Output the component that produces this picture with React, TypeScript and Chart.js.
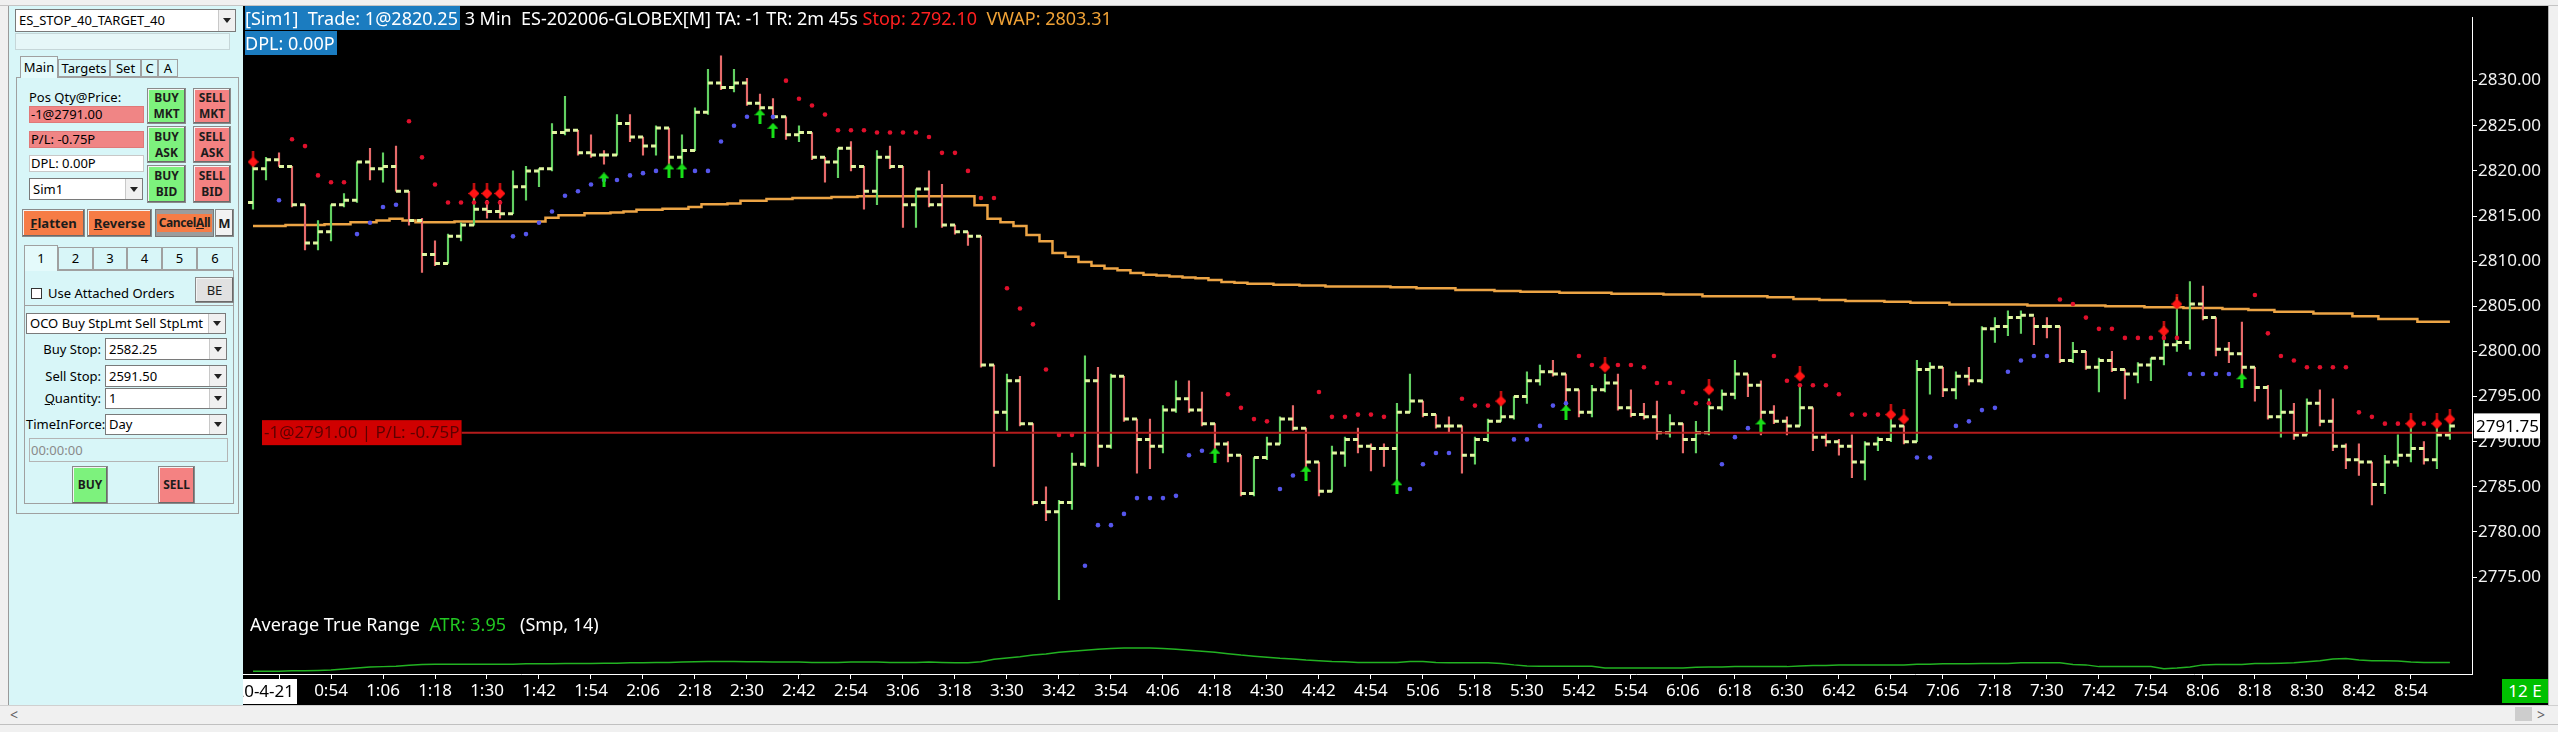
import { useEffect, useRef } from 'react';
import type { CSSProperties, ReactNode } from 'react';
import Chart from 'chart.js/auto';

const FONT = "'Noto Sans', 'DejaVu Sans', sans-serif";

// ES-202006 3 min bars, first visible bar at 0:36
const firstBarTime = '0:36';
const barMinutes = 3;
const dateLabel = '20-4-21';
const dateLabelTime = '0:42';
const timeLabels = [
  '0:54', '1:06', '1:18', '1:30', '1:42', '1:54', '2:06', '2:18', '2:30', '2:42',
  '2:54', '3:06', '3:18', '3:30', '3:42', '3:54', '4:06', '4:18', '4:30', '4:42',
  '4:54', '5:06', '5:18', '5:30', '5:42', '5:54', '6:06', '6:18', '6:30', '6:42',
  '6:54', '7:06', '7:18', '7:30', '7:42', '7:54', '8:06', '8:18', '8:30', '8:42', '8:54',
];
const priceTicks = [2775, 2780, 2785, 2790, 2795, 2800, 2805, 2810, 2815, 2820, 2825, 2830];

const opens = [
  2816.5, 2820.25, 2821.25, 2820.5, 2816.25, 2812.0, 2813.25, 2816.25, 2816.75, 2821.0,
  2820.25, 2820.5, 2817.75, 2814.5, 2810.75, 2809.75, 2812.75, 2814.0, 2815.75, 2815.5,
  2815.25, 2818.25, 2820.0, 2820.25, 2824.25, 2824.5, 2822.0, 2821.75, 2821.75, 2825.25,
  2823.75, 2822.75, 2824.75, 2821.5, 2822.25, 2826.5, 2829.75, 2829.25, 2829.75, 2827.5,
  2827.0, 2826.0, 2824.0, 2824.25, 2821.5, 2821.0, 2822.5, 2820.5, 2817.75, 2821.5,
  2820.5, 2816.25, 2818.0, 2816.25, 2814.0, 2813.25, 2812.75, 2798.5, 2793.25, 2796.75,
  2792.0, 2783.25, 2782.25, 2783.25, 2787.5, 2796.75, 2789.5, 2797.25, 2792.5, 2790.25,
  2789.5, 2793.5, 2794.75, 2793.5, 2792.0, 2789.75, 2788.5, 2784.25, 2788.25, 2789.75,
  2792.5, 2791.5, 2787.75, 2784.5, 2788.75, 2790.25, 2789.5, 2789.25, 2789.25, 2793.25,
  2794.5, 2793.0, 2791.75, 2791.75, 2788.5, 2790.25, 2792.25, 2792.75, 2795.0, 2796.75,
  2797.75, 2797.5, 2795.75, 2793.25, 2795.75, 2796.5, 2793.75, 2793.0, 2792.75, 2791.0,
  2792.0, 2790.25, 2791.0, 2793.75, 2795.25, 2797.5, 2796.25, 2793.25, 2792.25, 2791.75,
  2793.75, 2790.5, 2790.0, 2789.5, 2787.75, 2789.75, 2790.25, 2791.75, 2790.0, 2798.0,
  2798.25, 2795.75, 2797.25, 2796.75, 2802.5, 2802.75, 2803.75, 2804.0, 2802.75, 2802.75,
  2799.0, 2800.0, 2798.25, 2799.0, 2798.0, 2797.5, 2798.5, 2799.25, 2800.75, 2801.0,
  2805.25, 2803.75, 2800.25, 2799.75, 2798.25, 2796.0, 2792.75, 2793.25, 2790.75, 2794.25,
  2792.25, 2789.5, 2788.0, 2787.75, 2785.25, 2787.75, 2788.5, 2789.25, 2788.0, 2790.75,
];
const highs = [
  2820.5, 2821.5, 2822.0, 2820.5, 2816.25, 2814.5, 2816.25, 2817.5, 2821.0, 2822.5,
  2822.0, 2822.75, 2817.75, 2814.75, 2812.25, 2813.0, 2814.25, 2817.75, 2816.75, 2816.75,
  2820.0, 2820.5, 2820.25, 2825.25, 2828.25, 2824.5, 2824.0, 2822.25, 2826.25, 2826.25,
  2823.75, 2825.0, 2824.75, 2824.0, 2827.0, 2831.25, 2832.75, 2831.25, 2830.25, 2828.5,
  2828.0, 2826.0, 2825.0, 2824.25, 2821.5, 2822.5, 2823.25, 2820.5, 2822.25, 2822.75,
  2820.5, 2818.0, 2820.0, 2818.5, 2814.0, 2813.25, 2812.75, 2798.5, 2797.5, 2797.25,
  2792.0, 2785.0, 2783.5, 2788.75, 2799.5, 2798.25, 2797.5, 2797.25, 2792.5, 2792.5,
  2794.0, 2796.75, 2796.75, 2795.5, 2792.0, 2790.0, 2788.5, 2788.25, 2790.5, 2792.75,
  2794.0, 2791.5, 2787.75, 2789.5, 2790.5, 2791.5, 2789.75, 2789.75, 2794.25, 2797.5,
  2794.5, 2793.0, 2792.75, 2791.75, 2790.5, 2792.5, 2794.0, 2795.0, 2797.75, 2798.5,
  2799.0, 2797.5, 2795.75, 2796.25, 2797.5, 2797.5, 2795.75, 2794.25, 2794.5, 2793.0,
  2792.0, 2792.25, 2794.75, 2795.75, 2799.0, 2797.5, 2796.75, 2794.0, 2792.75, 2796.25,
  2793.75, 2791.0, 2790.25, 2790.75, 2790.0, 2790.5, 2792.5, 2791.75, 2799.0, 2798.75,
  2798.25, 2797.75, 2798.25, 2802.75, 2803.75, 2804.5, 2804.5, 2803.75, 2803.75, 2802.75,
  2801.0, 2800.0, 2799.25, 2800.0, 2798.0, 2798.75, 2799.25, 2802.75, 2806.0, 2807.75,
  2807.25, 2803.75, 2801.0, 2803.25, 2798.25, 2796.25, 2795.75, 2794.25, 2794.75, 2795.75,
  2794.75, 2789.75, 2789.75, 2787.75, 2788.5, 2790.75, 2792.0, 2790.0, 2792.0, 2792.0,
];
const lows = [
  2815.75, 2819.0, 2820.5, 2816.0, 2811.25, 2811.25, 2812.25, 2816.0, 2816.5, 2819.0,
  2818.75, 2817.75, 2814.0, 2808.75, 2809.5, 2809.75, 2812.25, 2814.0, 2814.75, 2814.75,
  2815.25, 2816.75, 2818.25, 2820.0, 2824.0, 2821.75, 2821.5, 2820.75, 2821.75, 2823.25,
  2821.75, 2821.75, 2820.75, 2820.75, 2822.25, 2826.25, 2829.0, 2828.75, 2827.25, 2826.75,
  2825.75, 2823.5, 2823.25, 2821.25, 2818.75, 2819.25, 2820.0, 2815.75, 2816.25, 2820.25,
  2813.75, 2813.75, 2816.0, 2813.75, 2813.0, 2811.75, 2798.25, 2787.25, 2791.25, 2791.75,
  2783.0, 2781.25, 2772.5, 2782.5, 2787.25, 2787.25, 2789.25, 2792.25, 2786.5, 2787.0,
  2788.75, 2793.25, 2793.25, 2791.75, 2789.0, 2787.75, 2784.0, 2784.0, 2788.0, 2789.75,
  2791.25, 2786.25, 2784.0, 2784.5, 2787.25, 2788.75, 2786.75, 2787.25, 2784.75, 2793.25,
  2792.75, 2791.5, 2791.0, 2786.5, 2787.5, 2790.0, 2792.25, 2792.5, 2794.25, 2796.25,
  2797.25, 2793.25, 2792.75, 2792.75, 2795.5, 2793.5, 2792.75, 2792.5, 2790.25, 2790.5,
  2788.75, 2788.75, 2790.75, 2793.5, 2794.75, 2795.0, 2790.75, 2792.0, 2790.75, 2791.75,
  2789.0, 2789.5, 2788.5, 2786.0, 2785.75, 2789.0, 2790.0, 2789.75, 2790.0, 2795.25,
  2795.0, 2794.75, 2796.25, 2796.5, 2801.0, 2801.75, 2802.0, 2800.75, 2801.5, 2798.75,
  2798.75, 2798.0, 2795.5, 2797.75, 2794.75, 2796.5, 2796.75, 2798.5, 2800.0, 2800.25,
  2803.5, 2799.5, 2798.75, 2796.5, 2794.5, 2792.5, 2790.5, 2790.25, 2790.75, 2791.75,
  2789.0, 2787.0, 2786.25, 2783.0, 2784.25, 2787.25, 2787.75, 2787.5, 2787.0, 2790.25,
];
const closes = [
  2820.25, 2821.25, 2820.5, 2816.25, 2812.0, 2813.25, 2816.25, 2816.75, 2821.0, 2820.25,
  2820.5, 2817.75, 2814.5, 2810.75, 2809.75, 2812.75, 2814.0, 2815.75, 2815.5, 2815.25,
  2818.25, 2820.0, 2820.25, 2824.25, 2824.5, 2822.0, 2821.75, 2821.75, 2825.25, 2823.75,
  2822.75, 2824.75, 2821.5, 2822.25, 2826.5, 2829.75, 2829.25, 2829.75, 2827.5, 2827.0,
  2826.0, 2824.0, 2824.25, 2821.5, 2821.0, 2822.5, 2820.5, 2817.75, 2821.5, 2820.5,
  2816.25, 2818.0, 2816.25, 2814.0, 2813.25, 2812.75, 2798.5, 2793.25, 2796.75, 2792.0,
  2783.25, 2782.25, 2783.25, 2787.5, 2796.75, 2789.5, 2797.25, 2792.5, 2790.25, 2789.5,
  2793.5, 2794.75, 2793.5, 2792.0, 2789.75, 2788.5, 2784.25, 2788.25, 2789.75, 2792.5,
  2791.5, 2787.75, 2784.5, 2788.75, 2790.25, 2789.5, 2789.25, 2789.25, 2793.25, 2794.5,
  2793.0, 2791.75, 2791.75, 2788.5, 2790.25, 2792.25, 2792.75, 2795.0, 2796.75, 2797.75,
  2797.5, 2795.75, 2793.25, 2795.75, 2796.5, 2793.75, 2793.0, 2792.75, 2791.0, 2792.0,
  2790.25, 2791.0, 2793.75, 2795.25, 2797.5, 2796.25, 2793.25, 2792.25, 2791.75, 2793.75,
  2790.5, 2790.0, 2789.5, 2787.75, 2789.75, 2790.25, 2791.75, 2790.0, 2798.0, 2798.25,
  2795.75, 2797.25, 2796.75, 2802.5, 2802.75, 2803.75, 2804.0, 2802.75, 2802.75, 2799.0,
  2800.0, 2798.25, 2799.0, 2798.0, 2797.5, 2798.5, 2799.25, 2800.75, 2801.0, 2805.25,
  2803.75, 2800.25, 2799.75, 2798.25, 2796.0, 2792.75, 2793.25, 2790.75, 2794.25, 2792.25,
  2789.5, 2788.0, 2787.75, 2785.25, 2787.75, 2788.5, 2789.25, 2788.0, 2790.75, 2791.75,
];
const vwap = [
  2813.9, 2813.9, 2813.9, 2814.0, 2814.0, 2814.0, 2814.1, 2814.1, 2814.3, 2814.3,
  2814.5, 2814.7, 2814.5, 2814.3, 2814.3, 2814.3, 2814.4, 2814.4, 2814.4, 2814.4,
  2814.4, 2814.4, 2814.4, 2814.8, 2815.1, 2815.1, 2815.3, 2815.3, 2815.4, 2815.5,
  2815.7, 2815.7, 2815.8, 2815.8, 2816.0, 2816.3, 2816.3, 2816.4, 2816.7, 2816.7,
  2816.9, 2816.9, 2817.0, 2817.0, 2817.0, 2817.1, 2817.1, 2817.2, 2817.2, 2817.2,
  2817.2, 2817.2, 2817.2, 2817.2, 2817.2, 2817.2, 2816.2, 2814.7, 2814.3, 2813.9,
  2812.9, 2812.2, 2810.9, 2810.5, 2809.9, 2809.5, 2809.2, 2809.0, 2808.7, 2808.5,
  2808.4, 2808.3, 2808.2, 2808.1, 2807.9, 2807.7, 2807.6, 2807.5, 2807.5, 2807.4,
  2807.4, 2807.3, 2807.3, 2807.2, 2807.2, 2807.2, 2807.2, 2807.2, 2807.1, 2807.1,
  2807.0, 2807.0, 2807.0, 2806.8, 2806.8, 2806.8, 2806.7, 2806.7, 2806.6, 2806.6,
  2806.6, 2806.5, 2806.5, 2806.5, 2806.5, 2806.4, 2806.4, 2806.4, 2806.4, 2806.3,
  2806.3, 2806.3, 2806.1, 2806.1, 2806.1, 2806.1, 2806.1, 2806.0, 2806.0, 2805.8,
  2805.8, 2805.7, 2805.7, 2805.6, 2805.6, 2805.6, 2805.5, 2805.5, 2805.4, 2805.4,
  2805.4, 2805.2, 2805.2, 2805.2, 2805.2, 2805.2, 2805.2, 2805.1, 2805.1, 2805.1,
  2805.1, 2805.1, 2805.1, 2805.0, 2805.0, 2805.0, 2804.9, 2804.9, 2804.9, 2804.8,
  2804.8, 2804.8, 2804.7, 2804.7, 2804.6, 2804.6, 2804.4, 2804.4, 2804.4, 2804.2,
  2804.2, 2804.2, 2803.9, 2803.9, 2803.6, 2803.6, 2803.6, 2803.3, 2803.3, 2803.3,
];
// trailing stop dots: above price = red, below price = blue
const stopDots = [
  null, null, 2816.75, 2823.5, 2822.75, 2819.5, 2818.75, 2818.75, 2813.0, 2814.25,
  2816.0, 2816.25, 2825.5, 2821.5, 2818.5, 2816.5, 2816.5, 2816.5, 2816.5, 2816.5,
  2812.75, 2813.0, 2814.25, 2815.5, 2817.25, 2817.75, 2818.5, 2819.0, 2819.0, 2819.5,
  2819.75, 2820.0, null, null, 2820.0, 2820.0, 2823.25, 2825.0, 2826.0, null,
  2826.0, 2830.0, 2828.0, 2827.25, 2826.25, 2824.5, 2824.5, 2824.5, 2824.25, 2824.25,
  2824.25, 2824.25, 2823.75, 2822.0, 2822.0, 2820.0, 2817.0, 2817.0, 2807.0, 2804.75,
  2803.0, 2798.0, 2790.75, 2790.75, 2776.25, 2780.75, 2780.75, 2782.0, 2783.75, 2783.75,
  2783.75, 2784.0, 2788.5, 2789.0, null, 2795.25, 2793.75, 2792.5, 2792.25, 2784.75,
  2786.25, null, 2795.5, 2792.75, 2792.75, 2793.0, 2793.0, 2792.75, null, 2784.75,
  2787.5, 2788.75, 2788.75, 2794.75, 2794.0, 2794.0, null, 2790.25, 2790.25, 2791.75,
  2794.0, 2794.25, 2799.5, 2798.5, null, 2798.5, 2798.5, 2798.25, 2796.5, 2796.5,
  2795.5, 2794.25, 2794.25, 2787.5, 2790.5, 2791.5, null, 2799.5, 2796.75, 2796.25,
  2796.25, 2796.25, 2795.25, 2793.0, 2793.0, 2793.0, null, null, 2788.25, 2788.25,
  null, 2791.75, 2792.25, 2793.5, 2793.75, 2797.75, 2799.0, 2799.5, 2799.5, 2805.75,
  2805.25, 2803.75, 2802.5, 2802.5, 2801.5, 2801.5, 2801.5, 2801.5, 2801.5, 2797.5,
  2797.5, 2797.5, 2797.5, null, 2806.25, 2802.0, 2799.5, 2799.0, 2798.25, 2798.25,
  2798.25, 2798.25, 2793.25, 2792.75, 2792.0, 2792.0, null, 2792.0, null, null,
];
const sellSignalBars = [0, 17, 18, 19, 96, 104, 112, 119, 126, 127, 147, 148, 166, 168, 169];
const sellSignalPrices = [
  2821.0, 2817.5, 2817.5, 2817.5, 2794.5, 2798.25, 2795.75, 2797.25, 2793.0, 2792.5,
  2802.25, 2805.25, 2792.0, 2792.0, 2792.5,
];
const buySignalBars = [27, 32, 33, 39, 40, 74, 81, 88, 101, 116, 153];
const buySignalPrices = [
  2819.0, 2820.0, 2820.0, 2826.0, 2824.5, 2788.5, 2786.5, 2785.0, 2793.25, 2791.75, 2796.75,
];
const atr = [
  1.5, 1.5, 1.5, 1.6, 1.6, 1.7, 1.8, 2.1, 2.4, 2.7,
  2.8, 2.9, 3.2, 3.4, 3.5, 3.5, 3.5, 3.5, 3.5, 3.5,
  3.5, 3.6, 3.6, 3.6, 3.7, 3.7, 3.7, 3.8, 3.8, 3.9,
  3.9, 4.0, 4.0, 4.1, 4.2, 4.3, 4.3, 4.3, 4.2, 4.2,
  4.1, 4.1, 4.1, 4.0, 4.0, 4.0, 4.1, 4.1, 4.1, 4.0,
  4.0, 4.0, 4.1, 4.0, 3.9, 3.9, 4.2, 4.9, 5.3, 5.6,
  6.1, 6.4, 6.9, 7.2, 7.5, 7.8, 8.0, 8.1, 8.1, 8.1,
  8.0, 7.8, 7.5, 7.2, 6.9, 6.5, 6.1, 5.8, 5.5, 5.2,
  5.0, 4.7, 4.5, 4.3, 4.2, 4.0, 4.0, 4.0, 4.0, 4.3,
  4.3, 4.0, 3.9, 3.9, 3.9, 3.9, 3.7, 3.3, 3.0, 2.9,
  2.9, 2.9, 2.9, 2.9, 2.4, 2.4, 2.4, 2.4, 2.4, 2.4,
  2.4, 2.6, 2.7, 2.7, 2.8, 2.8, 2.8, 2.8, 2.8, 3.0,
  3.1, 3.1, 3.3, 3.3, 3.3, 3.3, 3.3, 3.3, 3.5, 3.5,
  3.6, 3.6, 3.6, 3.7, 3.7, 3.7, 3.9, 3.9, 3.9, 3.9,
  3.4, 3.3, 2.8, 2.8, 2.8, 2.8, 2.8, 2.2, 2.4, 2.7,
  3.3, 3.4, 3.4, 3.4, 3.7, 3.7, 3.8, 3.9, 4.2, 4.5,
  5.0, 5.1, 4.7, 4.5, 4.5, 4.4, 4.1, 4.0, 4.0, 3.95,
];
const positionPrice = 2791.0;
const positionLabel = '-1@2791.00 | P/L: -0.75P';

const UP = '#62d062';
const DOWN = '#e66a6a';
const TICK = '#e0f5a2';

const toMinutes = (t: string) => {
  const [h, m] = t.split(':').map(Number);
  return h * 60 + m;
};
const barOf = (t: string) => (toMinutes(t) - toMinutes(firstBarTime)) / barMinutes;

function makeSellMarker() {
  const c = document.createElement('canvas');
  c.width = 11;
  c.height = 21;
  const g = c.getContext('2d')!;
  g.fillStyle = '#ff1414';
  g.fillRect(4.5, 0, 2, 6);
  g.beginPath();
  g.moveTo(5.5, 5);
  g.lineTo(11, 10.5);
  g.lineTo(5.5, 16);
  g.lineTo(0, 10.5);
  g.closePath();
  g.fill();
  return c;
}

function makeBuyMarker() {
  const c = document.createElement('canvas');
  c.width = 11;
  c.height = 15;
  const g = c.getContext('2d')!;
  g.fillStyle = '#18e018';
  g.beginPath();
  g.moveTo(5.5, 0);
  g.lineTo(11, 6);
  g.lineTo(0, 6);
  g.closePath();
  g.fill();
  g.fillRect(4, 5, 3, 10);
  return c;
}

const overlayPlugin = {
  id: 'ntOverlay',
  afterDatasetsDraw(chart: any) {
    const { ctx, chartArea: a, scales } = chart;
    const y = scales.y.getPixelForValue(positionPrice);
    ctx.save();
    ctx.font = `17px ${FONT}`;
    const w = ctx.measureText(positionLabel).width + 4;
    const x0 = a.left + 19;
    ctx.strokeStyle = '#b41c1c';
    ctx.lineWidth = 2;
    ctx.beginPath();
    ctx.moveTo(x0 + w, y);
    ctx.lineTo(a.right, y);
    ctx.stroke();
    ctx.fillStyle = '#d00000';
    ctx.fillRect(x0, y - 12.5, w, 25);
    ctx.fillStyle = '#5e0000';
    ctx.textBaseline = 'middle';
    ctx.fillText(positionLabel, x0 + 2, y + 1);
    ctx.restore();
  },
  afterDraw(chart: any) {
    const { ctx, chartArea: a, scales } = chart;
    ctx.save();
    // last price marker on the price axis
    const last = closes[closes.length - 1];
    const ly = scales.y.getPixelForValue(last);
    ctx.fillStyle = '#ffffff';
    ctx.fillRect(a.right + 2, ly - 12.5, 66, 25);
    ctx.fillStyle = '#000000';
    ctx.font = `17px ${FONT}`;
    ctx.textBaseline = 'middle';
    ctx.textAlign = 'left';
    ctx.fillText(last.toFixed(2), a.right + 4, ly + 1);
    // date label on the time axis, cut by the left edge of the chart
    const dx = scales.x.getPixelForValue(barOf(dateLabelTime));
    ctx.font = `17px ${FONT}`;
    const dw = ctx.measureText(dateLabel).width;
    const right = dx + 18;
    ctx.fillStyle = '#ffffff';
    ctx.fillRect(right - dw - 6, a.bottom + 5, dw + 6, 25);
    ctx.fillStyle = '#000000';
    ctx.textAlign = 'right';
    ctx.fillText(dateLabel, right - 3, a.bottom + 18);
    ctx.restore();
  },
};

function PriceChart() {
  const canvasRef = useRef<HTMLCanvasElement>(null);

  useEffect(() => {
    const canvas = canvasRef.current;
    if (!canvas) return;
    const ctx = canvas.getContext('2d');
    if (!ctx) return;

    const tickBars = [barOf(dateLabelTime), ...timeLabels.map(barOf)];
    const sellMarker = makeSellMarker();
    const buyMarker = makeBuyMarker();

    const chart = new Chart(ctx, {
      type: 'bar',
      data: {
        datasets: [
          {
            type: 'line',
            label: 'VWAP',
            data: vwap.map((v, i) => ({ x: i, y: v })),
            borderColor: '#eca445',
            borderWidth: 2.5,
            pointRadius: 0,
            stepped: 'middle',
            order: 10,
          },
          {
            type: 'line',
            label: 'ATR',
            yAxisID: 'yAtr',
            data: atr.map((v, i) => ({ x: i, y: v })),
            borderColor: '#22b222',
            borderWidth: 1.5,
            pointRadius: 0,
            order: 10,
          },
          {
            type: 'bar',
            label: 'High-Low',
            data: highs.map((h, i) => ({ x: i, y: [lows[i], h] })),
            backgroundColor: closes.map((c, i) => (c > opens[i] ? UP : DOWN)),
            barThickness: 1.5,
            grouped: false,
            order: 8,
          },
          {
            type: 'line',
            label: 'Open',
            showLine: false,
            data: opens.map((o, i) => ({ x: i - 0.19, y: o })),
            pointStyle: 'line',
            pointRadius: 2.5,
            pointBorderWidth: 3,
            pointBorderColor: TICK,
            order: 6,
          },
          {
            type: 'line',
            label: 'Close',
            showLine: false,
            data: closes.map((c, i) => ({ x: i + 0.19, y: c })),
            pointStyle: 'line',
            pointRadius: 2.5,
            pointBorderWidth: 3,
            pointBorderColor: TICK,
            order: 6,
          },
          {
            type: 'line',
            label: 'Stop',
            showLine: false,
            data: stopDots.map((v, i) => ({ x: i, y: v })),
            pointRadius: 2.3,
            pointBorderWidth: 0,
            pointBackgroundColor: (c: any) =>
              c.raw && c.raw.y > closes[c.dataIndex] ? '#e0102c' : '#5656ec',
            order: 4,
          },
          {
            type: 'line',
            label: 'Sell',
            showLine: false,
            data: sellSignalBars.map((b, k) => ({ x: b, y: sellSignalPrices[k] })),
            pointStyle: sellMarker,
            pointRadius: 6,
            order: 1,
          },
          {
            type: 'line',
            label: 'Buy',
            showLine: false,
            data: buySignalBars.map((b, k) => ({ x: b, y: buySignalPrices[k] })),
            pointStyle: buyMarker,
            pointRadius: 6,
            order: 1,
          },
        ] as any,
      },
      options: {
        responsive: true,
        maintainAspectRatio: false,
        animation: false,
        events: [],
        layout: { padding: 0, autoPadding: false },
        plugins: { legend: { display: false }, tooltip: { enabled: false } },
        scales: {
          x: {
            type: 'linear',
            min: -0.77,
            max: 170.7,
            offset: false,
            grid: { drawOnChartArea: false, offset: false, tickLength: 5, color: '#ffffff' },
            border: { display: true, color: '#ffffff', width: 1 },
            ticks: {
              color: '#ffffff',
              font: { family: FONT, size: 17 },
              padding: 2,
              autoSkip: false,
              maxRotation: 0,
              callback: (v: any) => {
                const k = timeLabels.findIndex((t) => barOf(t) === Number(v));
                return k >= 0 ? timeLabels[k] : '';
              },
            },
            afterBuildTicks: (s: any) => {
              s.ticks = tickBars.map((v) => ({ value: v }));
            },
            afterFit: (s: any) => {
              s.height = 31;
            },
          },
          y: {
            type: 'linear',
            position: 'right',
            min: 2764.26,
            max: 2837.03,
            grid: { drawOnChartArea: false, tickLength: 5, color: '#ffffff' },
            border: { display: true, color: '#ffffff', width: 1 },
            ticks: {
              color: '#f2f2f2',
              font: { family: FONT, size: 17 },
              padding: 1,
              callback: (v: any) => Number(v).toFixed(2),
            },
            afterBuildTicks: (s: any) => {
              s.ticks = priceTicks.map((v) => ({ value: v }));
            },
            afterFit: (s: any) => {
              s.width = 76;
            },
          },
          yAtr: { type: 'linear', display: false, min: 0.69, max: 188.6 },
        },
      } as any,
      plugins: [overlayPlugin],
    });

    return () => {
      chart.destroy();
    };
  }, []);

  return <canvas ref={canvasRef} />;
}

type AbsProps = { x: number; y: number; w: number; h: number; style?: CSSProperties; children?: ReactNode };
function Abs({ x, y, w, h, style, children }: AbsProps) {
  return (
    <div style={{ position: 'absolute', left: x, top: y, width: w, height: h, boxSizing: 'border-box', ...style }}>
      {children}
    </div>
  );
}

function Arrow() {
  return (
    <div style={{ position: 'absolute', right: 0, top: 0, bottom: 0, width: 16, background: '#f0f0f0', borderLeft: '1px solid #c8c8c8', display: 'flex', alignItems: 'center', justifyContent: 'center' }}>
      <div style={{ width: 0, height: 0, borderLeft: '4px solid transparent', borderRight: '4px solid transparent', borderTop: '5px solid #222' }} />
    </div>
  );
}

function Combo({ x, y, w, h, text }: { x: number; y: number; w: number; h: number; text: string }) {
  return (
    <Abs x={x} y={y} w={w} h={h} style={{ background: '#fff', border: '1px solid #7a7a7a', paddingLeft: 3, lineHeight: `${h - 2}px`, fontSize: 13 }}>
      {text}
      <Arrow />
    </Abs>
  );
}

function Btn({ x, y, w, h, bg, children, bold = true }: { x: number; y: number; w: number; h: number; bg: string; children: ReactNode; bold?: boolean }) {
  return (
    <Abs x={x} y={y} w={w} h={h} style={{ background: bg, border: '1px solid #8a8a8a', boxShadow: 'inset -1px -1px 0 #6a6a6a, inset 1px 1px 0 #f4f4f4', display: 'flex', flexDirection: 'column', alignItems: 'center', justifyContent: 'center', fontWeight: bold ? 700 : 400, fontSize: 12, lineHeight: '16px', color: '#1c1c1c' }}>
      {children}
    </Abs>
  );
}

function Field({ x, y, w, h, bg, text, color = '#000', border = '1px solid #b8b8b8' }: { x: number; y: number; w: number; h: number; bg: string; text: string; color?: string; border?: string }) {
  return (
    <Abs x={x} y={y} w={w} h={h} style={{ background: bg, border, lineHeight: `${h - 2}px`, fontSize: 13, color, paddingLeft: 1 }}>
      {text}
    </Abs>
  );
}

function Label({ x, y, w, h, children, align = 'left' }: { x: number; y: number; w: number; h: number; children: ReactNode; align?: 'left' | 'right' | 'center' }) {
  return (
    <Abs x={x} y={y} w={w} h={h} style={{ lineHeight: `${h}px`, fontSize: 13, textAlign: align, whiteSpace: 'nowrap' }}>
      {children}
    </Abs>
  );
}

function Tab({ x, y, w, h, text, active = false }: { x: number; y: number; w: number; h: number; text: string; active?: boolean }) {
  return (
    <Abs x={x} y={y} w={w} h={h} style={{ background: active ? '#e4fafb' : '#d8f6f8', border: '1px solid #a0a0a0', borderBottom: active ? 'none' : '1px solid #a0a0a0', lineHeight: `${h - 2}px`, fontSize: 13, textAlign: 'center', zIndex: active ? 2 : 1 }}>
      {text}
    </Abs>
  );
}

const PANEL = '#d8f6f8';
const BUY_BG = '#7df27d';
const SELL_BG = '#f48282';
const ORANGE = '#f67c46';

export default function App() {
  return (
    <div style={{ position: 'fixed', left: 0, top: 0, width: 2558, height: 732, background: '#f0f0f0', overflow: 'hidden', fontFamily: FONT, color: '#000' }}>
      {/* window frame */}
      <Abs x={0} y={5} w={2558} h={1} style={{ background: '#c4c4c4' }} />
      <Abs x={8} y={6} w={1} h={700} style={{ background: '#9a9a9a' }} />
      <Abs x={9} y={6} w={234} h={699} style={{ background: PANEL }} />

      {/* chart trader panel */}
      <Combo x={15} y={9} w={221} h={23} text="ES_STOP_40_TARGET_40" />
      <Abs x={15} y={33} w={215} h={17} style={{ background: '#e6f7f8', border: '1px solid #c6d6d8' }} />
      <Abs x={16} y={77} w={223} h={437} style={{ border: '1px solid #a0a0a0' }} />
      <Tab x={20} y={56} w={38} h={22} text="Main" active />
      <Tab x={58} y={59} w={52} h={18} text="Targets" />
      <Tab x={110} y={59} w={31} h={18} text="Set" />
      <Tab x={141} y={59} w={17} h={18} text="C" />
      <Tab x={158} y={59} w={20} h={18} text="A" />

      <Label x={29} y={89} w={115} h={16}>Pos Qty@Price:</Label>
      <Field x={29} y={106} w={115} h={17} bg="#f08585" text="-1@2791.00" border="1px solid #e07878" />
      <Field x={29} y={131} w={115} h={17} bg="#f08585" text="P/L: -0.75P" border="1px solid #e07878" />
      <Field x={29} y={155} w={115} h={17} bg="#ffffff" text="DPL: 0.00P" border="1px solid #c8c8c8" />
      <Combo x={29} y={178} w={114} h={22} text="Sim1" />
      <Btn x={147} y={88} w={39} h={36} bg={BUY_BG}><span>BUY</span><span>MKT</span></Btn>
      <Btn x={193} y={88} w={38} h={36} bg={SELL_BG}><span>SELL</span><span>MKT</span></Btn>
      <Btn x={147} y={126} w={39} h={37} bg={BUY_BG}><span>BUY</span><span>ASK</span></Btn>
      <Btn x={193} y={126} w={38} h={37} bg={SELL_BG}><span>SELL</span><span>ASK</span></Btn>
      <Btn x={147} y={165} w={39} h={38} bg={BUY_BG}><span>BUY</span><span>BID</span></Btn>
      <Btn x={193} y={165} w={38} h={38} bg={SELL_BG}><span>SELL</span><span>BID</span></Btn>

      <Btn x={22} y={209} w={63} h={28} bg={ORANGE}><span style={{ fontSize: 13 }}><u>F</u>latten</span></Btn>
      <Btn x={87} y={209} w={65} h={28} bg={ORANGE}><span style={{ fontSize: 13 }}><u>R</u>everse</span></Btn>
      <Abs x={155} y={209} w={59} h={28} style={{ background: '#9c9c9c', border: '1px solid #7a7a7a', padding: '4px 1px' }}>
        <div style={{ background: ORANGE, height: '100%', fontWeight: 700, fontSize: 12, letterSpacing: -0.4, lineHeight: '18px', textAlign: 'center', color: '#1c1c1c', whiteSpace: 'nowrap', overflow: 'hidden' }}>Cancel<u>A</u>ll</div>
      </Abs>
      <Btn x={215} y={209} w={19} h={28} bg="#f2f2f2"><span style={{ fontSize: 13 }}>M</span></Btn>

      <Abs x={24} y={270} w={210} h={234} style={{ border: '1px solid #a0a0a0' }} />
      <Tab x={24} y={245} w={34} h={26} text="1" active />
      <Tab x={58} y={247} w={35} h={23} text="2" />
      <Tab x={93} y={247} w={34} h={23} text="3" />
      <Tab x={127} y={247} w={35} h={23} text="4" />
      <Tab x={162} y={247} w={35} h={23} text="5" />
      <Tab x={197} y={247} w={36} h={23} text="6" />

      <Abs x={31} y={288} w={11} h={11} style={{ background: '#fff', border: '1px solid #333' }} />
      <Label x={48} y={284} w={140} h={18}>Use Attached Orders</Label>
      <Btn x={195} y={277} w={39} h={26} bg="#e1e1e1" bold={false}><span style={{ fontSize: 13 }}>BE</span></Btn>
      <Abs x={24} y={305} w={210} h={1} style={{ background: '#a0a0a0' }} />

      <Combo x={26} y={313} w={200} h={21} text="OCO Buy StpLmt Sell StpLmt" />
      <Label x={28} y={338} w={73} h={22} align="right">Buy Stop:</Label>
      <Combo x={105} y={338} w={122} h={22} text="2582.25" />
      <Label x={28} y={365} w={73} h={22} align="right">Sell Stop:</Label>
      <Combo x={105} y={365} w={122} h={22} text="2591.50" />
      <Label x={28} y={388} w={73} h={21} align="right"><u>Q</u>uantity:</Label>
      <Combo x={105} y={388} w={122} h={21} text="1" />
      <Label x={26} y={414} w={75} h={21} align="right">TimeInForce:</Label>
      <Combo x={105} y={414} w={122} h={21} text="Day" />
      <Field x={29} y={438} w={199} h={24} bg={PANEL} text="00:00:00" color="#8a8a8a" border="1px solid #b4b4b4" />
      <Btn x={72} y={466} w={36} h={38} bg={BUY_BG}><span>BUY</span></Btn>
      <Btn x={158} y={466} w={37} h={38} bg={SELL_BG}><span>SELL</span></Btn>

      {/* chart */}
      <div style={{ position: 'absolute', left: 243, top: 6, width: 2305, height: 699, background: '#000' }}>
        <PriceChart />
      </div>

      {/* chart header text */}
      <div style={{ position: 'absolute', left: 245, top: 6, fontSize: 18, lineHeight: '25px', whiteSpace: 'pre', color: '#fff', zIndex: 5 }}>
        <div>
          <span style={{ background: '#1b7cc0', paddingRight: 2 }}>[Sim1]  Trade: 1@2820.25</span>
          <span> 3 Min  ES-202006-GLOBEX[M] TA: -1 TR: 2m 45s </span>
          <span style={{ color: '#ff2020' }}>Stop: 2792.10</span>
          <span>  </span>
          <span style={{ color: '#f0a236' }}>VWAP: 2803.31</span>
        </div>
        <div>
          <span style={{ background: '#1b7cc0', paddingRight: 2 }}>DPL: 0.00P</span>
        </div>
      </div>
      <div style={{ position: 'absolute', left: 250, top: 611, fontSize: 18, lineHeight: '27px', whiteSpace: 'pre', color: '#fff', zIndex: 5 }}>
        <span>Average True Range  </span>
        <span style={{ color: '#22c822' }}>ATR: 3.95</span>
        <span>   (Smp, 14)</span>
      </div>
      <Abs x={2502} y={679} w={46} h={24} style={{ background: '#00c000', color: '#fff', fontSize: 17, lineHeight: '24px', textAlign: 'center', zIndex: 5 }}>12 E</Abs>

      {/* bottom scroll bar */}
      <Abs x={0} y={705} w={2558} h={1} style={{ background: '#d0d0d0' }} />
      <Abs x={10} y={706} w={20} h={17} style={{ fontSize: 14, lineHeight: '17px', color: '#606060' }}>&lt;</Abs>
      <Abs x={2515} y={707} w={17} h={14} style={{ background: '#cdcdcd' }} />
      <Abs x={2537} y={706} w={16} h={17} style={{ fontSize: 14, lineHeight: '17px', color: '#606060' }}>&gt;</Abs>
      <Abs x={0} y={724} w={2558} h={1} style={{ background: '#c0c0c0' }} />
      <Abs x={2548} y={6} w={1} h={700} style={{ background: '#b0b0b0' }} />
    </div>
  );
}
